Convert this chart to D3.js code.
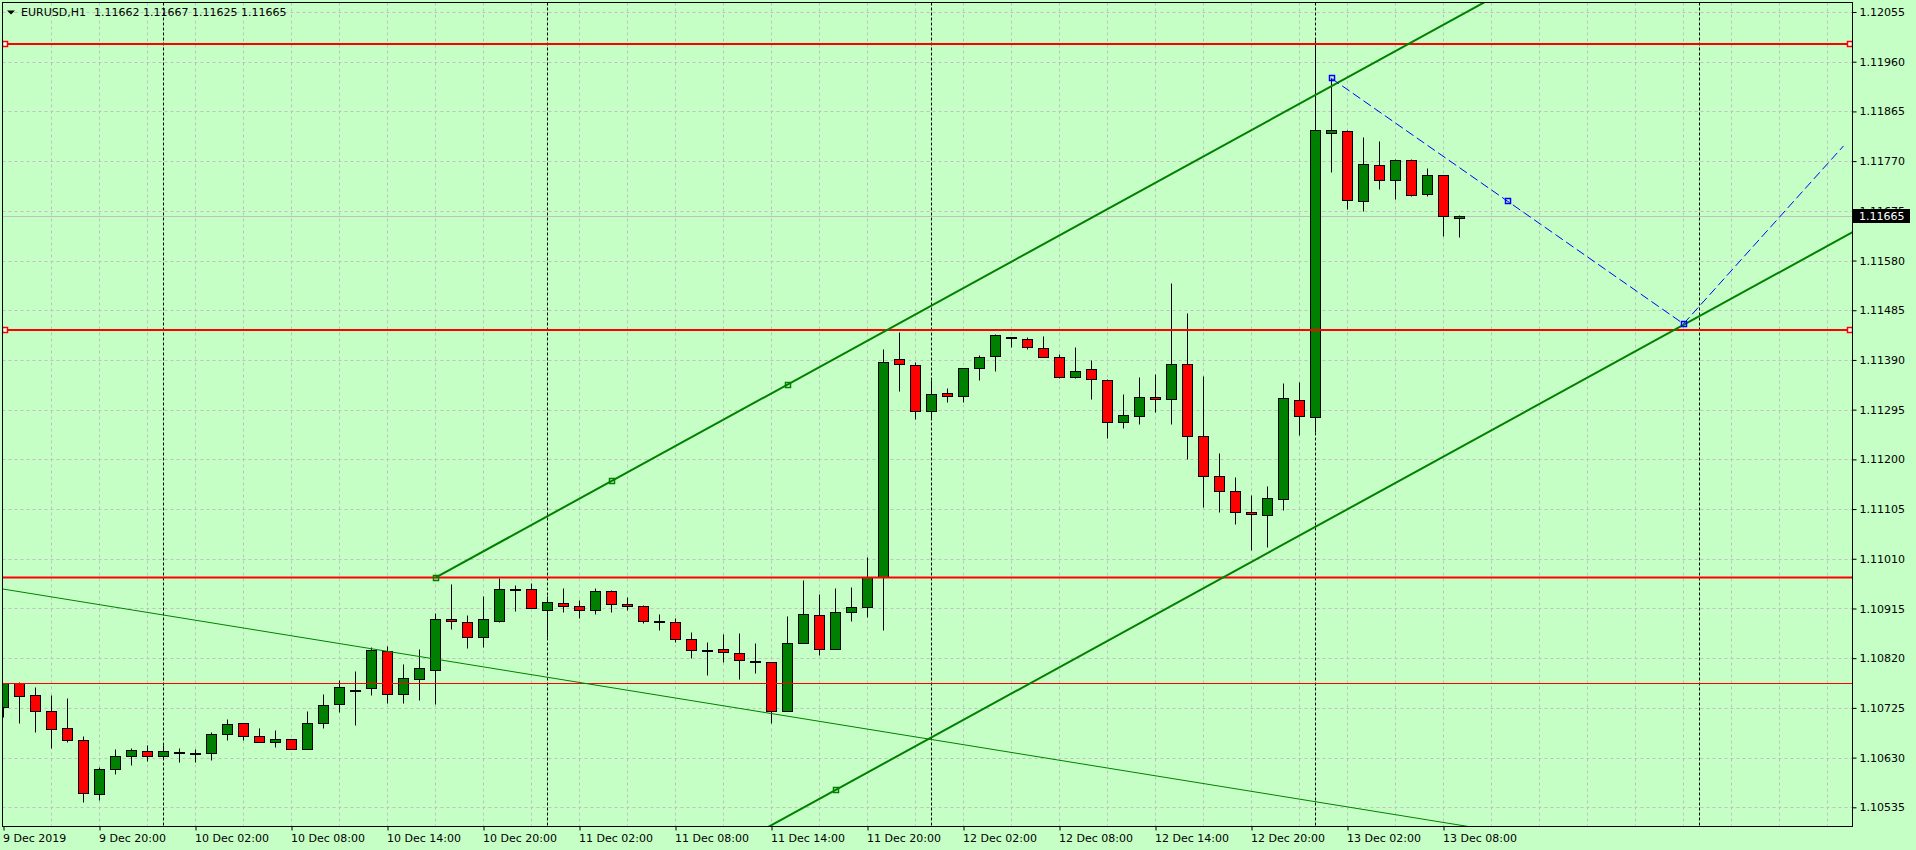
<!DOCTYPE html>
<html>
<head>
<meta charset="utf-8">
<script src="https://cdn.jsdelivr.net/npm/d3@7"></script>
<style>
  html, body { margin: 0; padding: 0; background: #c6ffc6; }
  svg { display: block; font-family: "DejaVu Sans", sans-serif; font-size: 11px; }
</style>
</head>
<body>
<svg id="chart" width="1916" height="850"></svg>
<script>
// EURUSD H1, bars from 9 Dec 2019 14:00, one per hour
const symbol = "EURUSD,H1";

const opens = [1.10726,1.10772,1.10749,1.10719,1.10686,1.10663,1.10560,1.10608,1.10634,1.10642,
  1.10633,1.10641,1.10638,1.10638,1.10675,1.10696,1.10671,1.10660,1.10665,1.10646,
  1.10697,1.10732,1.10760,1.10763,1.10834,1.10751,1.10780,1.10797,1.10894,1.10889,
  1.10861,1.10892,1.10952,1.10952,1.10912,1.10925,1.10919,1.10912,1.10948,1.10923,
  1.10919,1.10892,1.10889,1.10856,1.10835,1.10837,1.10829,1.10815,1.10812,1.10720,
  1.10849,1.10902,1.10837,1.10908,1.10918,1.10975,1.11391,1.11380,1.11292,1.11326,
  1.11322,1.11374,1.11397,1.11433,1.11430,1.11412,1.11395,1.11357,1.11372,1.11351,
  1.11271,1.11282,1.11319,1.11315,1.11382,1.11244,1.11168,1.11139,1.11099,1.11093,
  1.11124,1.11313,1.11281,1.11823,1.11827,1.11693,1.11762,1.11733,1.11772,1.11707,
  1.11743,1.11662];

const highs = [1.10773,1.10774,1.10765,1.10750,1.10744,1.10671,1.10612,1.10646,1.10648,1.10654,
  1.10654,1.10648,1.10647,1.10678,1.10704,1.10697,1.10687,1.10683,1.10665,1.10719,
  1.10752,1.10778,1.10796,1.10841,1.10843,1.10809,1.10838,1.10906,1.10962,1.10902,
  1.10939,1.10973,1.10960,1.10964,1.10939,1.10954,1.10931,1.10954,1.10950,1.10937,
  1.10921,1.10904,1.10896,1.10870,1.10851,1.10866,1.10868,1.10849,1.10812,1.10901,
  1.10969,1.10943,1.10954,1.10956,1.11014,1.11410,1.11443,1.11387,1.11351,1.11336,
  1.11374,1.11399,1.11439,1.11434,1.11433,1.11436,1.11401,1.11414,1.11389,1.11353,
  1.11324,1.11357,1.11363,1.11537,1.11480,1.11359,1.11212,1.11166,1.11131,1.11149,
  1.11345,1.11347,1.12001,1.11928,1.11829,1.11816,1.11808,1.11775,1.11774,1.11756,
  1.11743,1.11667];

const lows = [1.10708,1.10697,1.10678,1.10649,1.10659,1.10546,1.10548,1.10599,1.10615,1.10624,
  1.10630,1.10622,1.10622,1.10626,1.10664,1.10664,1.10660,1.10651,1.10646,1.10646,
  1.10687,1.10718,1.10693,1.10750,1.10735,1.10735,1.10741,1.10733,1.10876,1.10840,
  1.10842,1.10890,1.10911,1.10915,1.10861,1.10909,1.10897,1.10904,1.10909,1.10912,
  1.10888,1.10874,1.10851,1.10821,1.10788,1.10813,1.10781,1.10791,1.10696,1.10720,
  1.10849,1.10827,1.10837,1.10892,1.10898,1.10874,1.11331,1.11278,1.11278,1.11310,
  1.11310,1.11352,1.11368,1.11414,1.11410,1.11395,1.11355,1.11355,1.11316,1.11241,
  1.11259,1.11267,1.11291,1.11268,1.11201,1.11108,1.11100,1.11077,1.11026,1.11033,
  1.11104,1.11247,1.11252,1.11750,1.11678,1.11674,1.11716,1.11697,1.11703,1.11703,
  1.11626,1.11625];

const closes = [1.10772,1.10747,1.10719,1.10684,1.10663,1.10562,1.10608,1.10634,1.10644,1.10633,
  1.10642,1.10641,1.10638,1.10675,1.10694,1.10671,1.10660,1.10665,1.10646,1.10696,
  1.10730,1.10764,1.10760,1.10836,1.10751,1.10782,1.10801,1.10894,1.10891,1.10860,
  1.10894,1.10952,1.10952,1.10915,1.10927,1.10919,1.10913,1.10948,1.10923,1.10919,
  1.10892,1.10889,1.10856,1.10835,1.10835,1.10831,1.10816,1.10815,1.10719,1.10849,
  1.10904,1.10837,1.10908,1.10917,1.10975,1.11387,1.11382,1.11292,1.11324,1.11322,
  1.11374,1.11395,1.11437,1.11433,1.11414,1.11395,1.11357,1.11368,1.11353,1.11271,
  1.11284,1.11319,1.11315,1.11382,1.11244,1.11168,1.11139,1.11099,1.11095,1.11126,
  1.11317,1.11282,1.11829,1.11829,1.11695,1.11764,1.11733,1.11772,1.11705,1.11743,
  1.11665,1.11665];

const priceTicks = [1.10535,1.10630,1.10725,1.10820,1.10915,1.11010,1.11105,1.11200,1.11295,
  1.11390,1.11485,1.11580,1.11675,1.11770,1.11865,1.11960,1.12055];

const timeLabels = ["9 Dec 2019","9 Dec 20:00","10 Dec 02:00","10 Dec 08:00","10 Dec 14:00",
  "10 Dec 20:00","11 Dec 02:00","11 Dec 08:00","11 Dec 14:00","11 Dec 20:00","12 Dec 02:00",
  "12 Dec 08:00","12 Dec 14:00","12 Dec 20:00","13 Dec 02:00","13 Dec 08:00"];
const timeLabelBars = [0,6,12,18,24,30,36,42,48,54,60,66,72,78,84,90];
const daySeparatorBars = [10,34,58,82,106];

// drawn objects (bar index, price)
const hLinesThick = [1.11994, 1.11447, 1.10974];
const hLinesSelected = [1.11994, 1.11447];
const hLineThin = 1.10772;
const channelTop = [[27, 1.10974], [49, 1.11343]];
const channelBottom = [52, 1.10568];
const descLine = [[0, 1.10952], [90, 1.10506]];
const bluePath = [[83, 1.11928], [105, 1.11459], [115, 1.11799]];

// ---------------------------------------------------------------
const bg = "#c6ffc6";
const gridColor = "#c0c0c0";
const plot = { left: 2.5, top: 2.5, right: 1852.5, bottom: 826.5 };
const nBars = opens.length;
const lastBarMax = 116;

const svg = d3.select("#chart");

const x = d3.scaleLinear().domain([0, 1]).range([3.5, 19.5]); // 16px per bar
const y = d3.scaleLinear().domain([1.10535, 1.12055]).range([807.3, 12]);
const py = v => Math.round(y(v)) + 0.5;

svg.append("rect").attr("width", 1916).attr("height", 850).attr("fill", bg);

svg.append("defs").append("clipPath").attr("id", "plotClip")
  .append("rect")
  .attr("x", plot.left).attr("y", plot.top)
  .attr("width", plot.right - plot.left).attr("height", plot.bottom - plot.top);

const g = svg.append("g").attr("clip-path", "url(#plotClip)");

// grid
const gridBars = d3.range(3, lastBarMax, 3);
g.selectAll(".vgrid").data(gridBars).enter().append("line")
  .attr("x1", d => x(d)).attr("x2", d => x(d))
  .attr("y1", plot.top).attr("y2", plot.bottom)
  .attr("stroke", gridColor).attr("stroke-dasharray", "3,3");

g.selectAll(".hgrid").data(priceTicks).enter().append("line")
  .attr("x1", plot.left).attr("x2", plot.right)
  .attr("y1", d => py(d)).attr("y2", d => py(d))
  .attr("stroke", gridColor).attr("stroke-dasharray", "3,3");

// day separators
g.selectAll(".dsep").data(daySeparatorBars).enter().append("line")
  .attr("x1", d => x(d)).attr("x2", d => x(d))
  .attr("y1", plot.top).attr("y2", plot.bottom)
  .attr("stroke", "#000").attr("stroke-dasharray", "3,2");

// bid line
const lastClose = closes[nBars - 1];
g.append("line")
  .attr("x1", plot.left).attr("x2", plot.right)
  .attr("y1", py(lastClose)).attr("y2", py(lastClose))
  .attr("stroke", "#c0c0c0");

// candles
const bars = d3.range(nBars).map(i => ({ i, o: opens[i], h: highs[i], l: lows[i], c: closes[i] }));

g.selectAll(".wick").data(bars).enter().append("line")
  .attr("x1", d => x(d.i)).attr("x2", d => x(d.i))
  .attr("y1", d => py(d.h)).attr("y2", d => py(d.l))
  .attr("stroke", "#000");

g.selectAll(".body").data(bars).enter().append("rect")
  .attr("x", d => x(d.i) - 5)
  .attr("width", 10)
  .attr("y", d => py(Math.max(d.o, d.c)))
  .attr("height", d => Math.max(1, py(Math.min(d.o, d.c)) - py(Math.max(d.o, d.c))))
  .attr("fill", d => d.c > d.o ? "#008000" : d.c < d.o ? "#ff0000" : "#000")
  .attr("stroke", "#000");

// horizontal lines
g.selectAll(".hline").data(hLinesThick).enter().append("line")
  .attr("x1", plot.left).attr("x2", plot.right)
  .attr("y1", d => y(d)).attr("y2", d => y(d))
  .attr("stroke", "#ff0000").attr("stroke-width", 2);

g.append("line")
  .attr("x1", plot.left).attr("x2", plot.right)
  .attr("y1", py(hLineThin)).attr("y2", py(hLineThin))
  .attr("stroke", "#ff0000");

// thin descending trend line (extended both ways)
const descSlope = (descLine[1][1] - descLine[0][1]) / (descLine[1][0] - descLine[0][0]);
g.append("line")
  .attr("x1", x(-2)).attr("y1", y(descLine[0][1] + descSlope * (-2 - descLine[0][0])))
  .attr("x2", x(lastBarMax)).attr("y2", y(descLine[0][1] + descSlope * (lastBarMax - descLine[0][0])))
  .attr("stroke", "#008000");

// equidistant channel
const chSlope = (channelTop[1][1] - channelTop[0][1]) / (channelTop[1][0] - channelTop[0][0]);
const chStart = channelTop[0][0];
const lowerAt = i => channelBottom[1] + chSlope * (i - channelBottom[0]);
g.append("line")
  .attr("x1", x(chStart)).attr("y1", y(channelTop[0][1]))
  .attr("x2", x(lastBarMax)).attr("y2", y(channelTop[0][1] + chSlope * (lastBarMax - chStart)))
  .attr("stroke", "#008000").attr("stroke-width", 2);
g.append("line")
  .attr("x1", x(chStart)).attr("y1", y(lowerAt(chStart)))
  .attr("x2", x(lastBarMax)).attr("y2", y(lowerAt(lastBarMax)))
  .attr("stroke", "#008000").attr("stroke-width", 2);

// blue dashed path
const bluePts = bluePath.map(p => [x(p[0]), y(p[1])]);
g.append("path")
  .attr("d", d3.line()(bluePts))
  .attr("fill", "none")
  .attr("stroke", "#0000ff")
  .attr("stroke-dasharray", "9,4");

// selection markers
function marker(cx, cy, color, fill) {
  g.append("rect")
    .attr("x", Math.round(cx) - 2.5).attr("y", Math.round(cy) - 2.5)
    .attr("width", 5).attr("height", 5)
    .attr("fill", fill).attr("stroke", color).attr("stroke-width", 1.5);
}
hLinesSelected.forEach(v => {
  marker(plot.left + 2, y(v), "#ff0000", "#fff");
  marker(plot.right - 3, y(v), "#ff0000", "#fff");
});
const chMid = (channelTop[0][0] + channelTop[1][0]) / 2;
marker(x(channelTop[0][0]), y(channelTop[0][1]), "#008000", "none");
marker(x(chMid), y(channelTop[0][1] + chSlope * (chMid - chStart)), "#008000", "none");
marker(x(channelTop[1][0]), y(channelTop[1][1]), "#008000", "none");
marker(x(channelBottom[0]), y(channelBottom[1]), "#008000", "none");
const blueMid = [(bluePath[0][0] + bluePath[1][0]) / 2, (bluePath[0][1] + bluePath[1][1]) / 2];
marker(x(bluePath[0][0]), y(bluePath[0][1]), "#0000ff", "none");
marker(x(blueMid[0]), y(blueMid[1]), "#0000ff", "none");
marker(x(bluePath[1][0]), y(bluePath[1][1]), "#0000ff", "none");

// frame
svg.append("rect")
  .attr("x", plot.left).attr("y", plot.top)
  .attr("width", plot.right - plot.left).attr("height", plot.bottom - plot.top)
  .attr("fill", "none").attr("stroke", "#000");

// price axis
const yAxis = d3.axisRight(y)
  .tickValues(priceTicks)
  .tickSize(4)
  .tickPadding(3)
  .tickFormat(d3.format(".5f"));

const ya = svg.append("g")
  .attr("transform", `translate(${plot.right},0)`)
  .call(yAxis);
ya.select(".domain").remove();
ya.selectAll("text").attr("fill", "#000")
  .style("font-family", '"DejaVu Sans", sans-serif').style("font-size", "11px");
ya.selectAll("line").attr("stroke", "#000");

// time axis
const xAxis = d3.axisBottom(x)
  .tickValues(timeLabelBars)
  .tickSize(4)
  .tickPadding(4)
  .tickFormat((d, k) => timeLabels[k]);

const xa = svg.append("g")
  .attr("transform", `translate(0,${plot.bottom})`)
  .call(xAxis);
xa.select(".domain").remove();
xa.selectAll("text").attr("fill", "#000").attr("text-anchor", "start").attr("x", -1)
  .style("font-family", '"DejaVu Sans", sans-serif').style("font-size", "11px");
xa.selectAll("line").attr("stroke", "#000");

// current price box
svg.append("rect")
  .attr("x", plot.right + 0.5).attr("y", Math.round(y(lastClose)) - 7)
  .attr("width", 57).attr("height", 14)
  .attr("fill", "#000");
svg.append("text")
  .attr("x", plot.right + 6.5).attr("y", y(lastClose))
  .attr("dy", "0.35em")
  .attr("fill", "#fff")
  .text(d3.format(".5f")(lastClose));

// title
svg.append("path").attr("d", "M7,10.5 L15,10.5 L11,14.5 Z").attr("fill", "#000");
svg.append("text").attr("x", 21).attr("y", 16).attr("fill", "#000").text(symbol);
const fmt = d3.format(".5f");
svg.append("text").attr("x", 94).attr("y", 16).attr("fill", "#000")
  .text([opens[nBars - 1], highs[nBars - 1], lows[nBars - 1], closes[nBars - 1]].map(fmt).join(" "));
</script>
</body>
</html>
